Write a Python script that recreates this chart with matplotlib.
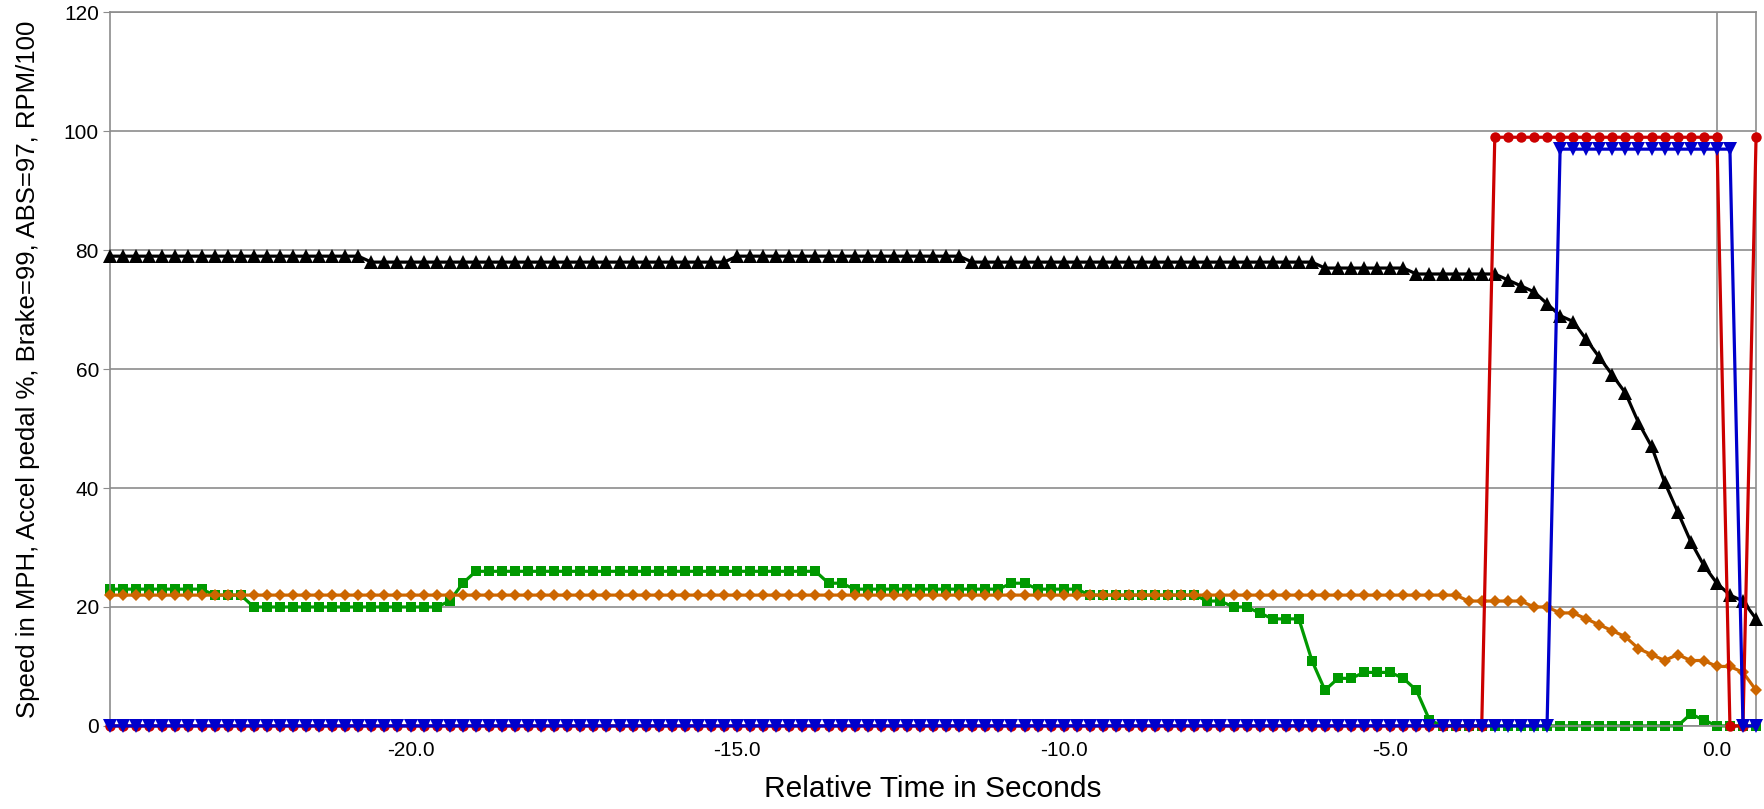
import numpy as np
import matplotlib
matplotlib.use("Agg")
import matplotlib.pyplot as plt

plt.rcParams['font.family'] = ['Liberation Sans', 'DejaVu Sans']

# relative time in seconds (one sample every 0.2 s)
time_s = [
	-24.6, -24.4, -24.2, -24.0, -23.8, -23.6, -23.4, -23.2, -23.0, -22.8,
	-22.6, -22.4, -22.2, -22.0, -21.8, -21.6, -21.4, -21.2, -21.0, -20.8,
	-20.6, -20.4, -20.2, -20.0, -19.8, -19.6, -19.4, -19.2, -19.0, -18.8,
	-18.6, -18.4, -18.2, -18.0, -17.8, -17.6, -17.4, -17.2, -17.0, -16.8,
	-16.6, -16.4, -16.2, -16.0, -15.8, -15.6, -15.4, -15.2, -15.0, -14.8,
	-14.6, -14.4, -14.2, -14.0, -13.8, -13.6, -13.4, -13.2, -13.0, -12.8,
	-12.6, -12.4, -12.2, -12.0, -11.8, -11.6, -11.4, -11.2, -11.0, -10.8,
	-10.6, -10.4, -10.2, -10.0, -9.8, -9.6, -9.4, -9.2, -9.0, -8.8,
	-8.6, -8.4, -8.2, -8.0, -7.8, -7.6, -7.4, -7.2, -7.0, -6.8,
	-6.6, -6.4, -6.2, -6.0, -5.8, -5.6, -5.4, -5.2, -5.0, -4.8,
	-4.6, -4.4, -4.2, -4.0, -3.8, -3.6, -3.4, -3.2, -3.0, -2.8,
	-2.6, -2.4, -2.2, -2.0, -1.8, -1.6, -1.4, -1.2, -1.0, -0.8,
	-0.6, -0.4, -0.2, 0.0, 0.2, 0.4, 0.6,
]

speed_mph = [
	79, 79, 79, 79, 79, 79, 79, 79, 79, 79,
	79, 79, 79, 79, 79, 79, 79, 79, 79, 79,
	78, 78, 78, 78, 78, 78, 78, 78, 78, 78,
	78, 78, 78, 78, 78, 78, 78, 78, 78, 78,
	78, 78, 78, 78, 78, 78, 78, 78, 79, 79,
	79, 79, 79, 79, 79, 79, 79, 79, 79, 79,
	79, 79, 79, 79, 79, 79, 78, 78, 78, 78,
	78, 78, 78, 78, 78, 78, 78, 78, 78, 78,
	78, 78, 78, 78, 78, 78, 78, 78, 78, 78,
	78, 78, 78, 77, 77, 77, 77, 77, 77, 77,
	76, 76, 76, 76, 76, 76, 76, 75, 74, 73,
	71, 69, 68, 65, 62, 59, 56, 51, 47, 41,
	36, 31, 27, 24, 22, 21, 18,
]

accel_pct = [
	23, 23, 23, 23, 23, 23, 23, 23, 22, 22,
	22, 20, 20, 20, 20, 20, 20, 20, 20, 20,
	20, 20, 20, 20, 20, 20, 21, 24, 26, 26,
	26, 26, 26, 26, 26, 26, 26, 26, 26, 26,
	26, 26, 26, 26, 26, 26, 26, 26, 26, 26,
	26, 26, 26, 26, 26, 24, 24, 23, 23, 23,
	23, 23, 23, 23, 23, 23, 23, 23, 23, 24,
	24, 23, 23, 23, 23, 22, 22, 22, 22, 22,
	22, 22, 22, 22, 21, 21, 20, 20, 19, 18,
	18, 18, 11, 6, 8, 8, 9, 9, 9, 8,
	6, 1, 0, 0, 0, 0, 0, 0, 0, 0,
	0, 0, 0, 0, 0, 0, 0, 0, 0, 0,
	0, 2, 1, 0, 0, 0, 0,
]

rpm_100 = [
	22, 22, 22, 22, 22, 22, 22, 22, 22, 22,
	22, 22, 22, 22, 22, 22, 22, 22, 22, 22,
	22, 22, 22, 22, 22, 22, 22, 22, 22, 22,
	22, 22, 22, 22, 22, 22, 22, 22, 22, 22,
	22, 22, 22, 22, 22, 22, 22, 22, 22, 22,
	22, 22, 22, 22, 22, 22, 22, 22, 22, 22,
	22, 22, 22, 22, 22, 22, 22, 22, 22, 22,
	22, 22, 22, 22, 22, 22, 22, 22, 22, 22,
	22, 22, 22, 22, 22, 22, 22, 22, 22, 22,
	22, 22, 22, 22, 22, 22, 22, 22, 22, 22,
	22, 22, 22, 22, 21, 21, 21, 21, 21, 20,
	20, 19, 19, 18, 17, 16, 15, 13, 12, 11,
	12, 11, 11, 10, 10, 9, 6,
]

brake = [
	0, 0, 0, 0, 0, 0, 0, 0, 0, 0,
	0, 0, 0, 0, 0, 0, 0, 0, 0, 0,
	0, 0, 0, 0, 0, 0, 0, 0, 0, 0,
	0, 0, 0, 0, 0, 0, 0, 0, 0, 0,
	0, 0, 0, 0, 0, 0, 0, 0, 0, 0,
	0, 0, 0, 0, 0, 0, 0, 0, 0, 0,
	0, 0, 0, 0, 0, 0, 0, 0, 0, 0,
	0, 0, 0, 0, 0, 0, 0, 0, 0, 0,
	0, 0, 0, 0, 0, 0, 0, 0, 0, 0,
	0, 0, 0, 0, 0, 0, 0, 0, 0, 0,
	0, 0, 0, 0, 0, 0, 99, 99, 99, 99,
	99, 99, 99, 99, 99, 99, 99, 99, 99, 99,
	99, 99, 99, 99, 0, 0, 99,
]

abs_active = [
	0, 0, 0, 0, 0, 0, 0, 0, 0, 0,
	0, 0, 0, 0, 0, 0, 0, 0, 0, 0,
	0, 0, 0, 0, 0, 0, 0, 0, 0, 0,
	0, 0, 0, 0, 0, 0, 0, 0, 0, 0,
	0, 0, 0, 0, 0, 0, 0, 0, 0, 0,
	0, 0, 0, 0, 0, 0, 0, 0, 0, 0,
	0, 0, 0, 0, 0, 0, 0, 0, 0, 0,
	0, 0, 0, 0, 0, 0, 0, 0, 0, 0,
	0, 0, 0, 0, 0, 0, 0, 0, 0, 0,
	0, 0, 0, 0, 0, 0, 0, 0, 0, 0,
	0, 0, 0, 0, 0, 0, 0, 0, 0, 0,
	0, 97, 97, 97, 97, 97, 97, 97, 97, 97,
	97, 97, 97, 97, 97, 0, 0,
]

y_ticks = [0, 20, 40, 60, 80, 100, 120]
x_ticks = [-20.0, -15.0, -10.0, -5.0, 0.0]

grid_col = "#8c8c8c"

fig = plt.figure(figsize=(17.64, 8.09), dpi=100)
ax = fig.add_axes([0.0624, 0.1027, 0.9331, 0.882])

for y in y_ticks:
	ax.axhline(y, color=grid_col, lw=1.2, zorder=0)
ax.axvline(0.0, color=grid_col, lw=1.2, zorder=0)

# markers hang over the frame like in the original, so no clipping
lw = 2.3
ax.plot(time_s, accel_pct, color="#009900", marker="s", ms=7.5, mew=0, lw=lw, zorder=2, clip_on=False)
ax.plot(time_s, rpm_100, color="#cc6600", marker="D", ms=6.5, mew=0, lw=lw, zorder=3, clip_on=False)
ax.plot(time_s, speed_mph, color="#000000", marker="^", ms=9.5, mew=0, lw=lw, zorder=4, clip_on=False)
ax.plot(time_s, brake, color="#cc0000", marker="o", ms=7.5, mew=0, lw=lw, zorder=5, clip_on=False)
ax.plot(time_s, abs_active, color="#0000cc", marker="v", ms=9.5, mew=0, lw=lw, zorder=6, clip_on=False)

ax.set_xlim(-24.6, 0.6)
ax.set_ylim(0, 120)
ax.set_yticks(y_ticks)
ax.set_yticklabels([str(v) for v in y_ticks])
ax.set_xticks(x_ticks)
ax.set_xticklabels(["%.1f" % v for v in x_ticks])

for side in ["left", "right", "top", "bottom"]:
	ax.spines[side].set_color(grid_col)
	ax.spines[side].set_linewidth(1.2)

ax.tick_params(axis="y", length=5, color=grid_col, labelsize=15, pad=3)
ax.tick_params(axis="x", length=0, labelsize=15, pad=11)

ax.set_xlabel("Relative Time in Seconds", fontsize=21.5, labelpad=11)
ax.set_ylabel("Speed in MPH, Accel pedal %, Brake=99, ABS=97, RPM/100", fontsize=18.5,
	family=["Liberation Sans Narrow", "Liberation Sans"], labelpad=17)

fig.savefig("out.png", dpi=100)
